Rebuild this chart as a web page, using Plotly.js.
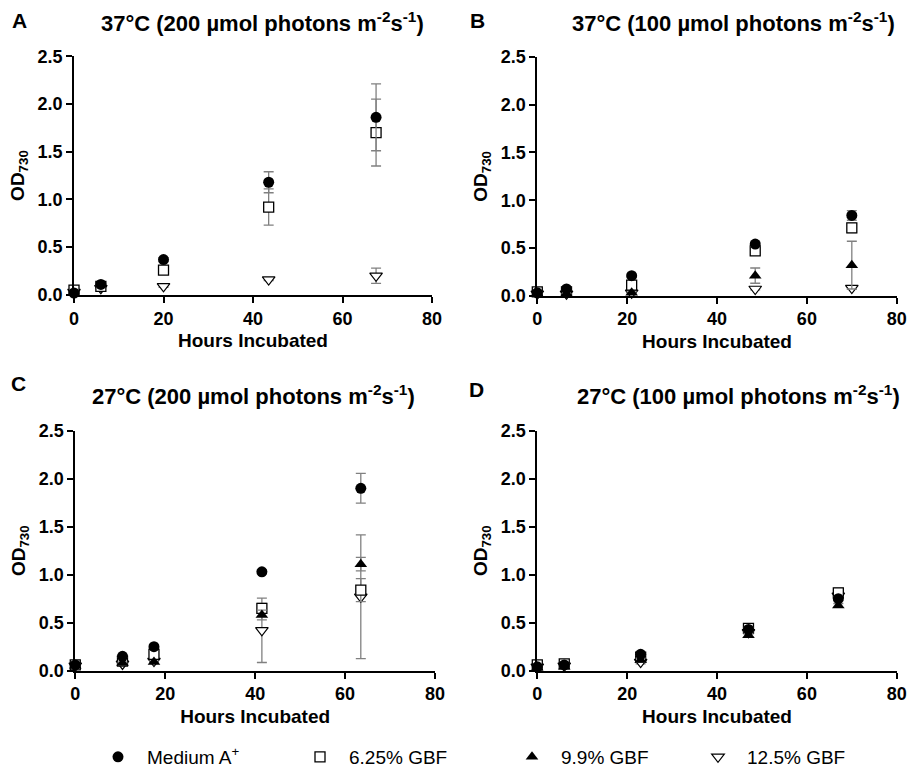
<!DOCTYPE html>
<html>
<head>
<meta charset="utf-8">
<script src="https://cdn.plot.ly/plotly-3.0.1.min.js"></script>
<style>html,body{margin:0;padding:0;background:#fff;}#chart{width:907px;height:770px;}</style>
</head>
<body>
<div id="chart"></div>
<script>
// ---------------- DATA ----------------
const seriesNames = ['Medium A<sup>+</sup>', '6.25% GBF', '9.9% GBF', '12.5% GBF'];
const panelTitles = [
  '37°C (200 µmol photons m<sup>-2</sup>s<sup>-1</sup>)',
  '37°C (100 µmol photons m<sup>-2</sup>s<sup>-1</sup>)',
  '27°C (200 µmol photons m<sup>-2</sup>s<sup>-1</sup>)',
  '27°C (100 µmol photons m<sup>-2</sup>s<sup>-1</sup>)'
];
const panelLetters = ['A', 'B', 'C', 'D'];
const xTitle = 'Hours Incubated';
const yTitle = 'OD<sub>730</sub>';

// Panel A: 37°C, 200 µmol
const hoursA = [0, 6, 20, 43.5, 67.5];
const mediumA_A = [0.02, 0.11, 0.37, 1.18, 1.86];
const mediumA_A_err = [0.01, 0.01, 0.02, 0.11, 0.35];
const gbf625_A = [0.05, 0.09, 0.26, 0.92, 1.70];
const gbf625_A_err = [0.01, 0.01, 0.03, 0.19, 0.35];
const gbf125_A = [0.03, 0.07, 0.09, 0.16, 0.20];
const gbf125_A_err = [0.0, 0.0, 0.01, 0.01, 0.08];

// Panel B: 37°C, 100 µmol
const hoursB = [0, 6.5, 21, 48.5, 70];
const mediumA_B = [0.03, 0.07, 0.21, 0.54, 0.84];
const mediumA_B_err = [0.01, 0.01, 0.01, 0.02, 0.05];
const gbf625_B = [0.04, 0.04, 0.11, 0.47, 0.71];
const gbf625_B_err = [0.02, 0.01, 0.03, 0.02, 0.05];
const gbf99_B = [0.02, 0.02, 0.03, 0.21, 0.32];
const gbf99_B_err = [0.0, 0.0, 0.01, 0.08, 0.25];
const gbf125_B = [0.02, 0.02, 0.03, 0.07, 0.08];
const gbf125_B_err = [0.0, 0.0, 0.0, 0.01, 0.01];

// Panel C: 27°C, 200 µmol
const hoursC = [0, 10.5, 17.5, 41.5, 63.5];
const mediumA_C = [0.06, 0.15, 0.25, 1.03, 1.90];
const mediumA_C_err = [0.01, 0.01, 0.01, 0.02, 0.155];
const gbf625_C = [0.06, 0.10, 0.17, 0.65, 0.84];
const gbf625_C_err = [0.01, 0.01, 0.02, 0.05, 0.12];
const gbf99_C = [0.05, 0.08, 0.09, 0.58, 1.11];
const gbf99_C_err = [0.0, 0.01, 0.01, 0.05, 0.07];
const gbf125_C = [0.05, 0.07, 0.10, 0.42, 0.77];
const gbf125_C_err = [0.0, 0.01, 0.01, 0.335, 0.645];

// Panel D: 27°C, 100 µmol
const hoursD = [0, 6, 23, 47, 67];
const mediumA_D = [0.04, 0.06, 0.17, 0.43, 0.75];
const mediumA_D_err = [0.01, 0.01, 0.01, 0.02, 0.02];
const gbf625_D = [0.06, 0.07, 0.14, 0.44, 0.81];
const gbf625_D_err = [0.01, 0.01, 0.02, 0.02, 0.05];
const gbf99_D = [0.03, 0.04, 0.11, 0.37, 0.68];
const gbf99_D_err = [0.01, 0.01, 0.02, 0.02, 0.02];
const gbf125_D = [0.04, 0.05, 0.09, 0.40, 0.78];
const gbf125_D_err = [0.01, 0.01, 0.02, 0.02, 0.02];

// ---------------- STYLE ----------------
const FONT = 'Arial, "Liberation Sans", Helvetica, sans-serif';
const markerStyles = [
  {symbol: 'circle', size: 11, color: '#000', line: {width: 0, color: '#000'}},
  {symbol: 'square', size: 10, color: '#fff', line: {width: 1.3, color: '#000'}},
  {symbol: 'triangle-up', size: 11, color: '#000', line: {width: 0, color: '#000'}},
  {symbol: 'triangle-down', size: 11, color: '#fff', line: {width: 1.2, color: '#000'}}
];
const legendIds = ['legend', 'legend2', 'legend3', 'legend4'];
const drawOrder = [3, 1, 2, 0]; // open symbols beneath filled ones

const panels = [
  {x: hoursA, series: [[mediumA_A, mediumA_A_err], [gbf625_A, gbf625_A_err], null, [gbf125_A, gbf125_A_err]]},
  {x: hoursB, series: [[mediumA_B, mediumA_B_err], [gbf625_B, gbf625_B_err], [gbf99_B, gbf99_B_err], [gbf125_B, gbf125_B_err]]},
  {x: hoursC, series: [[mediumA_C, mediumA_C_err], [gbf625_C, gbf625_C_err], [gbf99_C, gbf99_C_err], [gbf125_C, gbf125_C_err]]},
  {x: hoursD, series: [[mediumA_D, mediumA_D_err], [gbf625_D, gbf625_D_err], [gbf99_D, gbf99_D_err], [gbf125_D, gbf125_D_err]]}
];

const traces = [];
const legendShown = [false, false, false, false];
panels.forEach((p, pi) => {
  const ax = pi === 0 ? '' : String(pi + 1);
  drawOrder.forEach(si => {
    const s = p.series[si];
    if (!s) return;
    const show = !legendShown[si];
    legendShown[si] = true;
    traces.push({
      type: 'scatter', mode: 'markers',
      x: p.x, y: s[0],
      xaxis: 'x' + ax, yaxis: 'y' + ax,
      name: seriesNames[si],
      legend: legendIds[si],
      legendgroup: 'g' + si,
      showlegend: show,
      cliponaxis: false,
      marker: markerStyles[si],
      error_y: {type: 'data', array: s[1], visible: true, color: '#808080', thickness: 1.3, width: 5}
    });
  });
});

const xDomains = [[0.0816, 0.4763], [0.5924, 0.9887], [0.0830, 0.4796], [0.5924, 0.9887]];
const yDomains = [[0.617, 0.927], [0.616, 0.926], [0.129, 0.4406], [0.129, 0.4406]];

const tickFont = {family: FONT, size: 18, color: '#000', weight: 'bold'};
const titleFont = {family: FONT, size: 19, color: '#000', weight: 'bold'};

const layout = {
  width: 907, height: 770,
  margin: {l: 0, r: 0, t: 0, b: 0, autoexpand: false},
  paper_bgcolor: '#fff', plot_bgcolor: '#fff',
  font: {family: FONT, color: '#000'},
  annotations: []
};

for (let i = 0; i < 4; i++) {
  const k = i === 0 ? '' : String(i + 1);
  layout['xaxis' + k] = {
    domain: xDomains[i], anchor: 'y' + k,
    range: [0, 80], tick0: 0, dtick: 20,
    showline: true, linewidth: 2, linecolor: '#000',
    ticks: 'outside', ticklen: 6, tickwidth: 2, tickcolor: '#000',
    showgrid: false, zeroline: false, fixedrange: true,
    ticklabeloverflow: 'allow', automargin: false,
    tickfont: tickFont,
    title: {text: xTitle, font: titleFont, standoff: 6}
  };
  layout['yaxis' + k] = {
    domain: yDomains[i], anchor: 'x' + k,
    range: [0, 2.5], tick0: 0, dtick: 0.5, tickformat: '.1f',
    showline: true, linewidth: 2, linecolor: '#000',
    ticks: 'outside', ticklen: 6, tickwidth: 2, tickcolor: '#000',
    showgrid: false, zeroline: false, fixedrange: true, automargin: false,
    tickfont: tickFont,
    title: {text: yTitle, font: titleFont, standoff: 8}
  };
}

const titlePos = [[262, 22], [733, 22], [254, 395], [738, 395]];
const letterPos = [[19.5, 21], [477.5, 21], [18.5, 383], [476.5, 390]];
for (let i = 0; i < 4; i++) {
  layout.annotations.push({
    xref: 'paper', yref: 'paper',
    x: titlePos[i][0] / 907, y: 1 - titlePos[i][1] / 770,
    xanchor: 'center', yanchor: 'middle', showarrow: false,
    text: panelTitles[i],
    font: {family: FONT, size: 22, color: '#000', weight: 'bold'}
  });
  layout.annotations.push({
    xref: 'paper', yref: 'paper',
    x: letterPos[i][0] / 907, y: 1 - letterPos[i][1] / 770,
    xanchor: 'center', yanchor: 'middle', showarrow: false,
    text: panelLetters[i],
    font: {family: FONT, size: 21, color: '#000', weight: 'bold'}
  });
}

const legendMarkerX = [118, 320, 532, 718];
legendIds.forEach((id, i) => {
  layout[id] = {
    x: (legendMarkerX[i] - 29) / 907, y: 1 - 757 / 770,
    xanchor: 'left', yanchor: 'middle',
    orientation: 'h', bgcolor: 'rgba(0,0,0,0)', borderwidth: 0,
    itemwidth: 48,
    font: {family: FONT, size: 19, color: '#000'},
    itemclick: false, itemdoubleclick: false
  };
});

Plotly.newPlot('chart', traces, layout, {displayModeBar: false});
</script>
</body>
</html>
